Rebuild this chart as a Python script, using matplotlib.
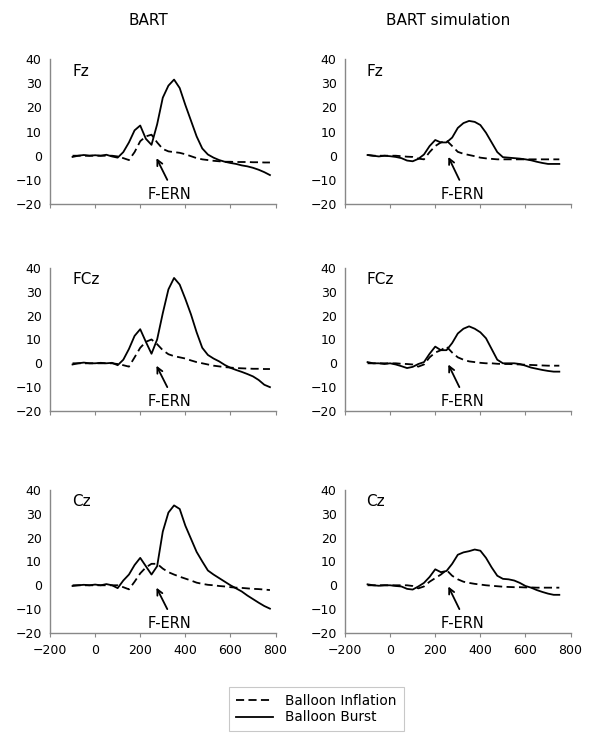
import numpy as np
import matplotlib
matplotlib.use("Agg")
import matplotlib.pyplot as plt
from matplotlib.lines import Line2D

plt.rcParams['font.family'] = ['DejaVu Sans']

# time axes (ms)
t_bart = np.arange(-100, 776, 25)
t_sim = np.arange(-100, 751, 25)

# BART (left column)
fz_burst = [-0.5, 0, 0.3, 0, 0.2, 0, 0.4, -0.3, -0.8, 1.5, 5.5, 10.5, 12.5, 7, 4.5, 13,
            24, 29, 31.5, 28, 21, 14.5, 8, 3, 0.5, -0.8, -1.8, -2.5, -3, -3.4, -4, -4.4,
            -5, -5.8, -6.8, -8]
fz_infl = [0, 0, 0, 0, 0, 0, 0, 0, -0.3, -1, -1.8, 1.5, 6, 8, 8.7, 5.5, 2.8, 1.8, 1.5,
           1.2, 0.6, -0.2, -1, -1.5, -1.8, -2.1, -2.3, -2.5, -2.5, -2.6, -2.6, -2.6,
           -2.7, -2.7, -2.8, -2.8]
fcz_burst = [-0.5, 0, 0.3, 0, 0, 0.2, 0, 0.2, -0.8, 1.5, 6, 11.5, 14.3, 9, 4, 10, 21,
             31, 35.8, 33, 27, 20.5, 13, 6.5, 3.5, 2, 0.8, -0.7, -1.9, -2.8, -3.6, -4.5,
             -5.5, -7, -9, -10]
fcz_infl = [0, 0, 0, 0, 0, 0, 0, 0, -0.3, -0.8, -1.4, 2.5, 6.5, 9, 10, 8, 5.5, 3.8, 3,
            2.5, 2, 1.2, 0.5, 0, -0.5, -1, -1.3, -1.6, -1.8, -2, -2.1, -2.2, -2.3, -2.3,
            -2.4, -2.4]
cz_burst = [-0.3, 0, 0.2, 0, 0.3, 0, 0.5, 0, -1.2, 2, 4.5, 8.5, 11.5, 8, 4.5, 8, 22.5,
            30.5, 33.5, 32, 25, 19.5, 14, 10, 6.2, 4.5, 3, 1.5, 0, -1.3, -2.6, -4.3, -5.8,
            -7.3, -8.7, -9.8]
cz_infl = [0, 0, 0, 0, 0, 0, 0, 0, 0, -0.8, -1.7, 1.5, 5, 7.5, 9, 9, 7, 5.5, 4.5, 3.6,
           2.8, 2, 1.1, 0.6, 0.2, 0, -0.3, -0.5, -0.8, -1, -1.1, -1.3, -1.5, -1.6, -1.8, -2]

# BART simulation (right column)
sfz_burst = [0.3, 0, -0.3, 0, -0.2, -0.5, -1, -2, -2.3, -1.3, 0.5, 4, 6.5, 5.5, 5.5, 7.5,
             11.5, 13.5, 14.4, 14, 12.7, 9.5, 5.5, 1.5, -0.6, -0.8, -1, -1.2, -1.5, -1.9,
             -2.5, -3, -3.4, -3.4, -3.4]
sfz_infl = [0.3, 0, 0, 0, 0, 0, -0.2, -0.4, -0.5, -1.2, -1.5, 1.5, 4, 5.5, 6.3, 4, 1.6,
            0.8, 0.3, -0.2, -0.8, -1.1, -1.3, -1.5, -1.5, -1.5, -1.5, -1.5, -1.5, -1.5,
            -1.5, -1.5, -1.5, -1.5, -1.5]
sfcz_burst = [0.5, 0, 0, -0.3, 0, -0.5, -1.2, -2, -1.5, -0.3, 0.5, 4, 7, 5.5, 5.5, 8.5,
              12.5, 14.5, 15.5, 14.5, 13, 10.5, 6, 1.5, 0, 0, 0, -0.3, -1, -1.8, -2.3,
              -2.8, -3.2, -3.5, -3.5]
sfcz_infl = [0, 0, 0, 0, 0, 0, -0.2, -0.3, -0.5, -1.4, -0.5, 2.5, 4.5, 5.5, 7, 4.5, 2.5,
             1.5, 0.8, 0.5, 0.2, 0, 0, -0.2, -0.3, -0.3, -0.4, -0.5, -0.6, -0.7, -0.8,
             -0.9, -1, -1, -1]
scz_burst = [0.4, 0, -0.2, 0, 0, -0.3, -0.5, -1.5, -1.8, -0.5, 1, 3.5, 6.7, 5.5, 6, 9,
             12.8, 13.8, 14.3, 15, 14.5, 11.5, 7.5, 4, 2.7, 2.5, 2, 1, -0.3, -1, -2, -2.8,
             -3.5, -4, -4]
scz_infl = [0, 0, 0, 0, 0, 0, 0, 0, -0.3, -1.3, -0.5, 1.5, 3, 4.5, 6.4, 4, 2.5, 1.5, 1,
            0.6, 0.3, 0, -0.2, -0.4, -0.6, -0.7, -0.8, -0.8, -0.9, -0.9, -1, -1, -1, -1, -1]

electrodes = ['Fz', 'FCz', 'Cz']
col_titles = ['BART', 'BART simulation']
xticks = [-200, 0, 200, 400, 600, 800]
yticks = [-20, -10, 0, 10, 20, 30, 40]

panels = [
    [(t_bart, fz_infl, fz_burst), (t_sim, sfz_infl, sfz_burst)],
    [(t_bart, fcz_infl, fcz_burst), (t_sim, sfcz_infl, sfcz_burst)],
    [(t_bart, cz_infl, cz_burst), (t_sim, scz_infl, scz_burst)],
]

fig = plt.figure(figsize=(6, 7.53), dpi=100)
lefts = [0.0833, 0.575]
bottoms = [0.729, 0.4542, 0.1594]
heights = [0.1926, 0.19, 0.19]
dash = (0, (4.5, 2.4))
gray = '#888888'

# arrow head/tail and label placement per column
arrows = [((272, -1), (320, -10), (331, -16)), ((258, -0.5), (307, -10), (320, -16))]

for r in range(3):
    for c in range(2):
        ax = fig.add_axes([lefts[c], bottoms[r], 0.376, heights[r]])
        t, infl, burst = panels[r][c]
        ax.plot(t, infl, color='black', lw=1.3, linestyle=dash)
        ax.plot(t, burst, color='black', lw=1.3)
        ax.set_xlim(-200, 800)
        ax.set_ylim(-20, 40)
        ax.set_xticks(xticks)
        ax.set_yticks(yticks)
        for s in ['top', 'right']:
            ax.spines[s].set_visible(False)
        for s in ['left', 'bottom']:
            ax.spines[s].set_color(gray)
            ax.spines[s].set_linewidth(1.0)
        ax.tick_params(axis='y', length=0, pad=6, labelsize=9)
        ax.tick_params(axis='x', length=3, color=gray, pad=5, labelsize=9)
        if r < 2:
            ax.set_xticklabels([])
        ax.text(-100 if c == 0 else -105, 35, electrodes[r], fontsize=11,
                ha='left', va='center')
        head, tail, lab = arrows[c]
        ax.annotate('', xy=head, xytext=tail,
                    arrowprops=dict(arrowstyle='->', lw=1.3, color='black',
                                    shrinkA=0, shrinkB=0))
        ax.text(lab[0], lab[1], 'F-ERN', fontsize=10.5, ha='center', va='center')

fig.text(0.247, 0.973, col_titles[0], fontsize=11, ha='center', va='center')
fig.text(0.747, 0.973, col_titles[1], fontsize=11, ha='center', va='center')

handles = [Line2D([], [], color='black', lw=1.3, linestyle=dash),
           Line2D([], [], color='black', lw=1.3)]
leg = fig.legend(handles, ['Balloon Inflation', 'Balloon Burst'], loc='center',
                 bbox_to_anchor=(0.5275, 0.0584), fontsize=9.8, frameon=True,
                 fancybox=False, handlelength=2.7, handletextpad=0.9,
                 labelspacing=0.2, borderpad=0.5)
leg.get_frame().set_edgecolor('#bbbbbb')
leg.get_frame().set_linewidth(0.8)

fig.savefig('out.png', dpi=100)
